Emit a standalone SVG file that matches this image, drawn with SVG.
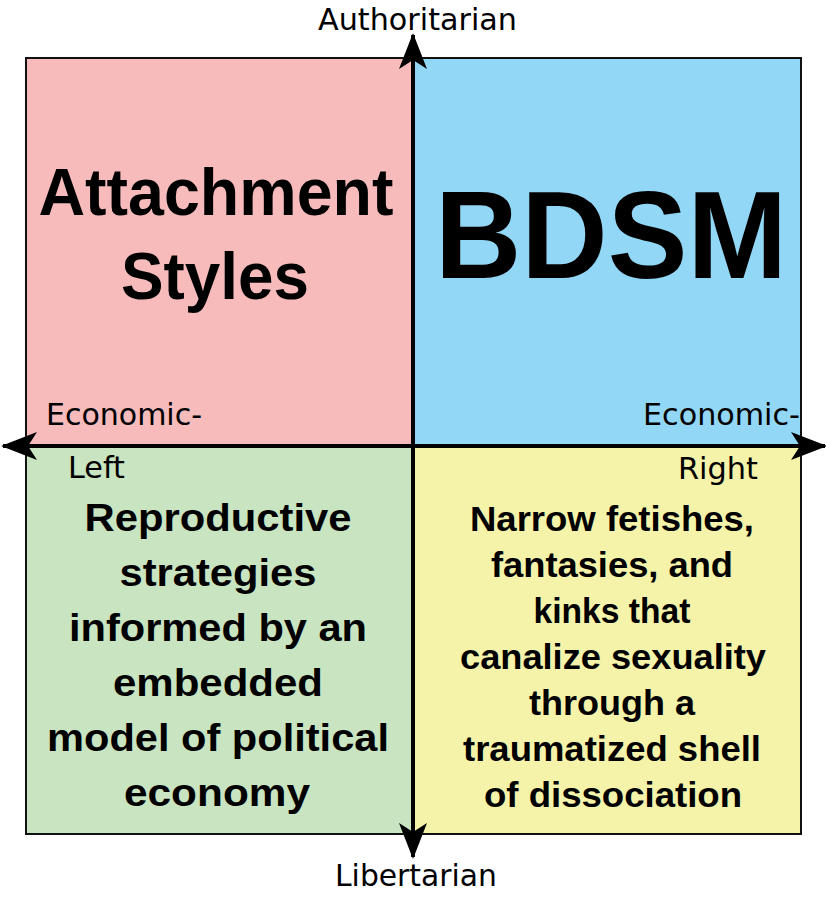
<svg xmlns="http://www.w3.org/2000/svg" width="826" height="900" viewBox="0 0 826 900">
<style>
.axis{font-family:"DejaVu Sans",sans-serif;font-size:30px;fill:#000}
.big{font-family:"Liberation Sans",Arial,sans-serif;font-weight:bold;fill:#000;text-anchor:middle}
.q{stroke:#111;stroke-width:2}
.ax{stroke:#000;stroke-width:4;fill:none}
</style>
<defs>
<marker id="ah" viewBox="0 0 36 28" refX="34" refY="14" markerWidth="36" markerHeight="28" markerUnits="userSpaceOnUse" orient="auto">
<path d="M0,0 L36,14 L0,28 L9,14 Z" fill="#000"/>
</marker>
</defs>
<rect width="826" height="900" fill="#fff"/>
<g id="q-auth-left"><rect class="q" x="26" y="58" width="387" height="388" fill="#f7bbbb"/>
<text class="big" font-size="66" x="216" y="215" textLength="355" lengthAdjust="spacingAndGlyphs">Attachment</text>
<text class="big" font-size="66" x="215" y="299" textLength="188" lengthAdjust="spacingAndGlyphs">Styles</text></g>
<g id="q-auth-right"><rect class="q" x="413" y="58" width="388" height="388" fill="#92d7f5"/>
<text class="big" font-size="124" x="611" y="278" textLength="352" lengthAdjust="spacingAndGlyphs">BDSM</text></g>
<g id="q-lib-left"><rect class="q" x="26" y="446" width="387" height="388" fill="#c9e4c0"/>
<text class="big" font-size="39" x="218" y="531" textLength="267" lengthAdjust="spacingAndGlyphs">Reproductive</text>
<text class="big" font-size="39" x="218" y="586" textLength="197" lengthAdjust="spacingAndGlyphs">strategies</text>
<text class="big" font-size="39" x="218" y="641" textLength="298" lengthAdjust="spacingAndGlyphs">informed by an</text>
<text class="big" font-size="39" x="218" y="696" textLength="210" lengthAdjust="spacingAndGlyphs">embedded</text>
<text class="big" font-size="39" x="218" y="751" textLength="342" lengthAdjust="spacingAndGlyphs">model of political</text>
<text class="big" font-size="39" x="217" y="806" textLength="186" lengthAdjust="spacingAndGlyphs">economy</text></g>
<g id="q-lib-right"><rect class="q" x="413" y="446" width="388" height="388" fill="#f4f3a9"/>
<text class="big" font-size="35" x="612" y="531" textLength="284" lengthAdjust="spacingAndGlyphs">Narrow fetishes,</text>
<text class="big" font-size="35" x="612" y="577" textLength="242" lengthAdjust="spacingAndGlyphs">fantasies, and</text>
<text class="big" font-size="35" x="612" y="623" textLength="157" lengthAdjust="spacingAndGlyphs">kinks that</text>
<text class="big" font-size="35" x="613" y="669" textLength="306" lengthAdjust="spacingAndGlyphs">canalize sexuality</text>
<text class="big" font-size="35" x="612" y="715" textLength="166" lengthAdjust="spacingAndGlyphs">through a</text>
<text class="big" font-size="35" x="612" y="761" textLength="298" lengthAdjust="spacingAndGlyphs">traumatized shell</text>
<text class="big" font-size="35" x="613" y="807" textLength="258" lengthAdjust="spacingAndGlyphs">of dissociation</text></g>
<g id="connectors">
<line class="ax" x1="413" y1="446" x2="413" y2="35" marker-end="url(#ah)"/>
<line class="ax" x1="413" y1="446" x2="413" y2="857" marker-end="url(#ah)"/>
<line class="ax" x1="413" y1="446" x2="3" y2="446" marker-end="url(#ah)"/>
<line class="ax" x1="413" y1="446" x2="825" y2="446" marker-end="url(#ah)"/>
</g>
<g id="labels">
<text class="axis" x="318" y="30" textLength="199" lengthAdjust="spacingAndGlyphs">Authoritarian</text>
<text class="axis" x="335" y="886" textLength="162" lengthAdjust="spacingAndGlyphs">Libertarian</text>
<text class="axis" x="46" y="425" textLength="156" lengthAdjust="spacingAndGlyphs">Economic-</text>
<text class="axis" x="68" y="478" textLength="57" lengthAdjust="spacingAndGlyphs">Left</text>
<text class="axis" x="643" y="425" textLength="157" lengthAdjust="spacingAndGlyphs">Economic-</text>
<text class="axis" x="678" y="479" textLength="80" lengthAdjust="spacingAndGlyphs">Right</text>
</g>
</svg>
